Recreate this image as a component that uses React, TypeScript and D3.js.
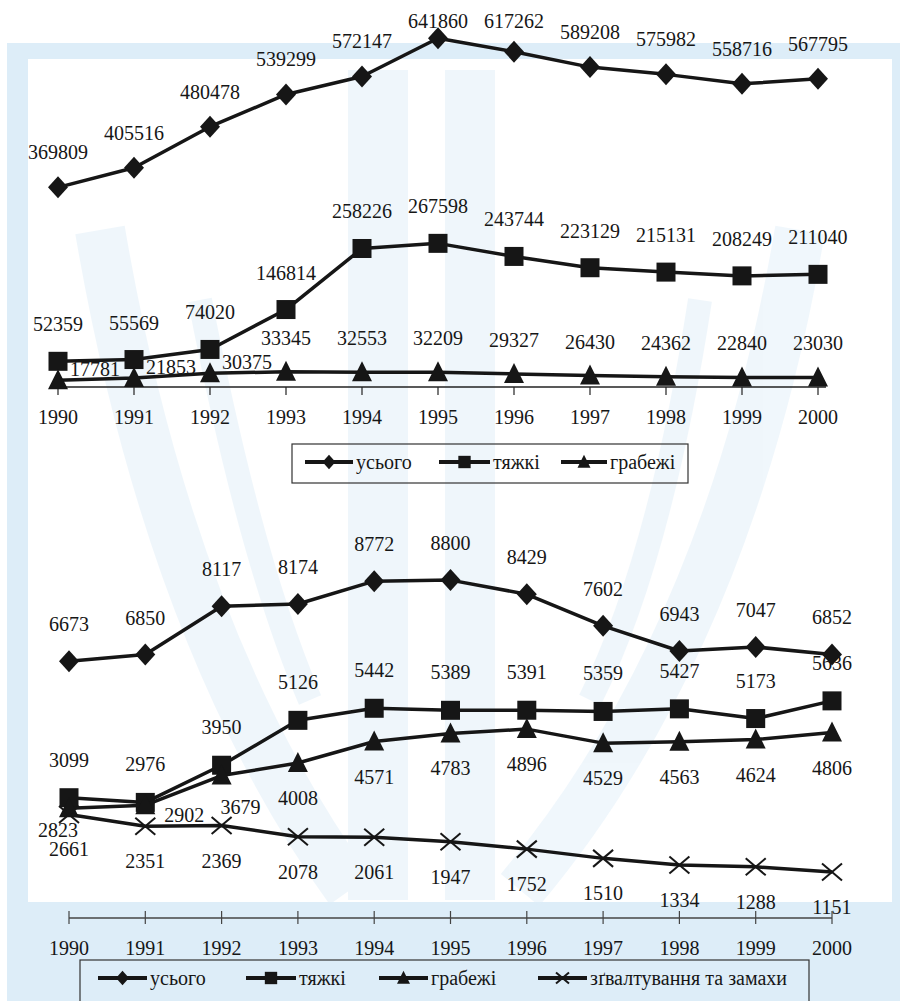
import React from 'react'
import * as d3 from 'd3'

// categories
const years = ['1990', '1991', '1992', '1993', '1994', '1995', '1996', '1997', '1998', '1999', '2000']

// upper chart
const total1 = [369809, 405516, 480478, 539299, 572147, 641860, 617262, 589208, 575982, 558716, 567795]
const grave1 = [52359, 55569, 74020, 146814, 258226, 267598, 243744, 223129, 215131, 208249, 211040]
const robbery1 = [17781, 21853, 30375, 33345, 32553, 32209, 29327, 26430, 24362, 22840, 23030]

// lower chart
const total2 = [6673, 6850, 8117, 8174, 8772, 8800, 8429, 7602, 6943, 7047, 6852]
const grave2 = [3099, 2976, 3950, 5126, 5442, 5389, 5391, 5359, 5427, 5173, 5636]
const robbery2 = [2823, 2902, 3679, 4008, 4571, 4783, 4896, 4529, 4563, 4624, 4806]
const rape2 = [2661, 2351, 2369, 2078, 2061, 1947, 1752, 1510, 1334, 1288, 1151]

const legend1 = ['усього', 'тяжкі', 'грабежі']
const legend2 = ['усього', 'тяжкі', 'грабежі', 'зґвалтування та замахи']

type Shape = 'diamond' | 'square' | 'triangle' | 'cross'

const FONT = "'Liberation Serif', 'Times New Roman', Times, serif"
const INK = '#161616'
const WATER = '#ddedf8'

const Marker = ({ shape, x, y, s = 10 }: { shape: Shape; x: number; y: number; s?: number }) => {
	if (shape === 'diamond')
		return <path d={`M${x},${y - s * 1.1}L${x + s},${y}L${x},${y + s * 1.1}L${x - s},${y}Z`} fill={INK} />
	if (shape === 'square')
		return <rect x={x - s * 0.95} y={y - s * 0.95} width={s * 1.9} height={s * 1.9} fill={INK} />
	if (shape === 'triangle')
		return <path d={`M${x},${y - s * 1.1}L${x + s},${y + s * 0.9}L${x - s},${y + s * 0.9}Z`} fill={INK} />
	return (
		<g stroke={INK} strokeWidth={2}>
			<line x1={x - s} y1={y - s * 0.85} x2={x + s} y2={y + s * 0.85} />
			<line x1={x - s} y1={y + s * 0.85} x2={x + s} y2={y - s * 0.85} />
		</g>
	)
}

const Txt = (p: React.SVGProps<SVGTextElement>) => (
	<text style={{ fontFamily: FONT }} fontSize={20} fill={INK} dy="0.35em" {...p} />
)

interface ISeries {
	values: number[]
	shape: Shape
	// label offset from the point (text centre)
	label: (i: number) => [number, number]
}

const Series = ({ s, x, y, minLabelY = -999 }: { s: ISeries; x: d3.ScalePoint<string>; y: d3.ScaleLinear<number, number>; minLabelY?: number }) => {
	const line = d3
		.line<number>()
		.x((_, i) => x(years[i])!)
		.y(d => y(d))
	return (
		<g>
			<path d={line(s.values)!} fill="none" stroke={INK} strokeWidth={3.5} strokeLinejoin="round" />
			{s.values.map((v, i) => (
				<Marker key={i} shape={s.shape} x={x(years[i])!} y={y(v)} />
			))}
			{s.values.map((v, i) => {
				const [dx, dy] = s.label(i)
				return (
					<Txt key={'t' + i} x={x(years[i])! + dx} y={Math.max(y(v) + dy, minLabelY)} textAnchor="middle">
						{v}
					</Txt>
				)
			})}
		</g>
	)
}

const Legend = ({ names, shapes, x, y, w, h, items }: { names: string[]; shapes: Shape[]; x: number; y: number; w: number; h: number; items: number[][] }) => (
	<g>
		<rect x={x} y={y} width={w} height={h} fill="none" stroke="#333" strokeWidth={1.2} />
		{names.map((n, i) => {
			const [a, b] = items[i]
			const cy = y + 18
			return (
				<g key={n}>
					<line x1={a} x2={b} y1={cy} y2={cy} stroke={INK} strokeWidth={4} />
					<Marker shape={shapes[i]} x={(a + b) / 2} y={cy} s={6.5} />
					<Txt x={b + 3} y={cy}>
						{n}
					</Txt>
				</g>
			)
		})}
	</g>
)

// світло-блакитний водяний знак під графіками
const Watermark = () => (
	<g>
		<rect x={7} y={43} width={893} height={958} fill={WATER} />
		<rect x={28} y={59} width={864} height={843} fill="#fff" />
		<g fill="none" stroke={WATER} strokeLinecap="butt" opacity={0.45}>
			<path d="M378,70 L378,900" strokeWidth={60} />
			<path d="M470,70 L470,900" strokeWidth={50} />
			<path d="M100,230 Q170,640 350,890" strokeWidth={50} />
			<path d="M800,230 Q730,640 520,890" strokeWidth={50} />
			<path d="M200,300 Q250,560 310,700" strokeWidth={24} />
			<path d="M700,300 Q660,560 590,700" strokeWidth={24} />
		</g>
	</g>
)

const App = () => {
	const x1 = d3.scalePoint<string>().domain(years).range([58, 818])
	const y1 = d3.scaleLinear().domain([0, 700000]).range([390, 6.4])
	const x2 = d3.scalePoint<string>().domain(years).range([69, 832])
	const y2 = d3.scaleLinear().domain([0, 10000]).range([916, 534.3])

	const top: ISeries[] = [
		{ values: total1, shape: 'diamond', label: () => [0, -35] },
		{ values: grave1, shape: 'square', label: () => [0, -37] },
		{ values: robbery1, shape: 'triangle', label: i => (i < 3 ? [37, -11] : [0, -34]) }
	]
	const rob2Nudge: [number, number][] = [
		[-11, 22],
		[39, 10],
		[19, 31]
	]
	const bottom: ISeries[] = [
		{ values: total2, shape: 'diamond', label: () => [0, -37] },
		{ values: grave2, shape: 'square', label: () => [0, -38] },
		{ values: robbery2, shape: 'triangle', label: i => (i < 3 ? rob2Nudge[i] : [0, 35]) },
		{ values: rape2, shape: 'cross', label: () => [0, 35] }
	]

	return (
		<svg width={906} height={1001} style={{ position: 'absolute', left: 0, top: 0, fontFamily: FONT }}>
			<rect width={906} height={1001} fill="#fff" />
			<Watermark />

			{/* верхній графік */}
			<g>
				<line x1={x1(years[0])} x2={x1(years[10])! + 8} y1={387} y2={387} stroke="#222" strokeWidth={1.5} />
				{years.map(yr => (
					<g key={yr}>
						<line x1={x1(yr)} x2={x1(yr)} y1={387} y2={395} stroke="#222" strokeWidth={1.2} />
						<Txt x={x1(yr)} y={417} textAnchor="middle">
							{yr}
						</Txt>
					</g>
				))}
				{top.map((s, i) => (
					<Series key={i} s={s} x={x1} y={y1} minLabelY={21} />
				))}
				<Legend
					names={legend1}
					shapes={['diamond', 'square', 'triangle']}
					x={292}
					y={444}
					w={396}
					h={39}
					items={[
						[305, 353],
						[439, 490],
						[561, 607]
					]}
				/>
			</g>

			{/* нижній графік */}
			<g>
				<line x1={x2(years[0])} x2={x2(years[10])} y1={918} y2={918} stroke="#444" strokeWidth={1.5} />
				{years.map(yr => (
					<g key={yr}>
						<line x1={x2(yr)} x2={x2(yr)} y1={911} y2={924} stroke="#444" strokeWidth={1.2} />
						<Txt x={x2(yr)} y={948} textAnchor="middle">
							{yr}
						</Txt>
					</g>
				))}
				{bottom.map((s, i) => (
					<Series key={i} s={s} x={x2} y={y2} />
				))}
				<Legend
					names={legend2}
					shapes={['diamond', 'square', 'triangle', 'cross']}
					x={80}
					y={960}
					w={729}
					h={60}
					items={[
						[98, 147],
						[246, 296],
						[379, 428],
						[538, 587]
					]}
				/>
			</g>
		</svg>
	)
}

export default App
